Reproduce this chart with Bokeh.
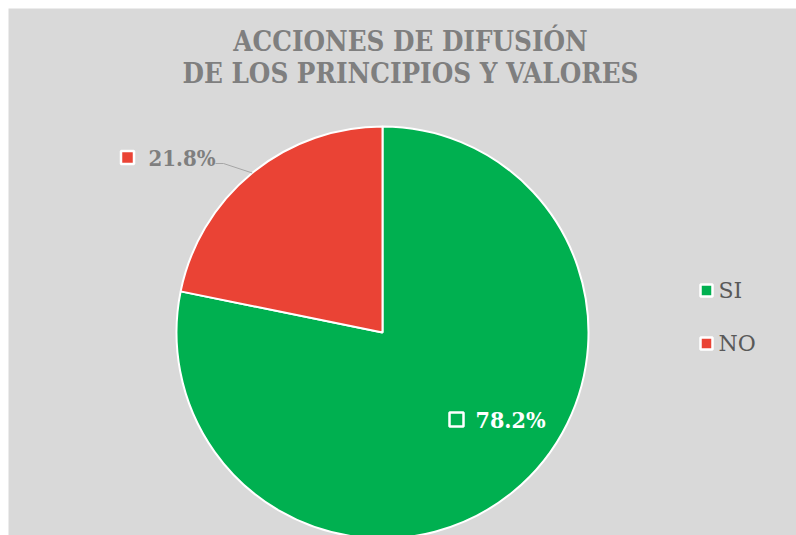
import numpy as np
from bokeh.plotting import figure
from bokeh.models import Range1d
from bokeh.core.properties import value
from bokeh.embed import file_html
from bokeh.resources import INLINE

# ---- data ----
categories = ["SI", "NO"]
percentages = [78.2, 21.8]
colors = ["#00b050", "#ea4335"]
title_lines = ["ACCIONES DE DIFUSIÓN", "DE LOS PRINCIPIOS Y VALORES"]

W, H = 788, 527
BG = "#d9d9d9"
FONT = "DejaVu Serif"
FONT_C = "DejaVu Serif Condensed"

p = figure(width=W + 8, height=H + 8, output_backend="svg", toolbar_location=None,
           x_range=Range1d(0, W), y_range=Range1d(0, H),
           x_axis_location=None, y_axis_location=None, min_border=0,
           min_border_left=8, min_border_top=8)
p.grid.visible = False
p.outline_line_color = None
p.background_fill_color = BG
p.border_fill_color = "white"

cx, cy, r = 374, 203, 206
fr = np.array(percentages) / sum(percentages)
ends_cum = np.cumsum(fr)
starts_cum = ends_cum - fr
start_angles = np.pi / 2 - 2 * np.pi * starts_cum
end_angles = np.pi / 2 - 2 * np.pi * ends_cum

p.wedge(x=cx, y=cy, radius=r, start_angle=start_angles, end_angle=end_angles,
        direction="clock", fill_color=colors, line_color="white", line_width=2)

p.text(x=[402, 402], y=[495, 463], text=title_lines, text_align="center",
       text_baseline="middle", text_font=value(FONT_C), text_font_size="27.5px",
       text_font_style="bold", text_color="#7f7f7f")

mid_no = (start_angles[1] + end_angles[1]) / 2
ex, ey = cx + r * np.cos(mid_no), cy + r * np.sin(mid_no)
p.line(x=[207, 215, ex], y=[372, 372, ey], line_color="#a6a6a6", line_width=1)
p.scatter(x=[119], y=[378], marker="square", size=13, fill_color=colors[1],
          line_color="white", line_width=2.5)
p.text(x=[140], y=[378], text=[f"{percentages[1]:.1f}%"], text_align="left",
       text_baseline="middle", text_font=value(FONT_C), text_font_size="22px",
       text_font_style="bold", text_color="#7f7f7f")

p.scatter(x=[448], y=[116], marker="square", size=14, fill_color=None,
          line_color="white", line_width=2.5)
p.text(x=[467], y=[116], text=[f"{percentages[0]:.1f}%"], text_align="left",
       text_baseline="middle", text_font=value(FONT_C), text_font_size="23px",
       text_font_style="bold", text_color="white")

leg_y = [245, 192]
p.scatter(x=[698, 698], y=leg_y, marker="square", size=12, fill_color=colors,
          line_color="white", line_width=2.5)
p.text(x=[710, 710], y=leg_y, text=categories, text_align="left",
       text_baseline="middle", text_font=value(FONT), text_font_size="22px",
       text_color="#595959")

open("out.html", "w").write(file_html(p, INLINE))
